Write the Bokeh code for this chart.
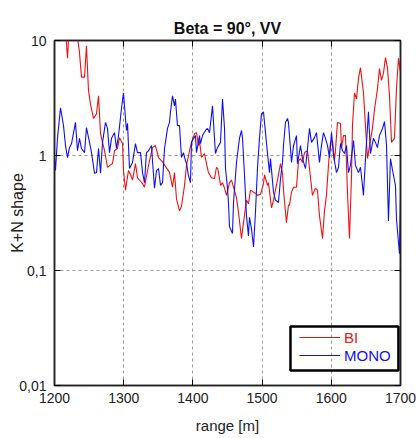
from bokeh.plotting import figure
from bokeh.models import (Range1d, FixedTicker, LinearAxis, LogAxis, Legend,
                          LegendItem, BoxAnnotation)
from bokeh.embed import file_html
from bokeh.resources import INLINE

# K+N shape factor versus range, bistatic (BI) and monostatic (MONO)
range_bi = [1200, 1206, 1212, 1216.5, 1218.8, 1221, 1226, 1231, 1236, 1239,
            1243.4, 1246.2, 1249.1, 1252, 1256.4, 1260.7, 1263.6, 1266.5, 1269.4, 1272.3,
            1276.6, 1280, 1283.8, 1286.7, 1291, 1293.9, 1298.3, 1299.7, 1302.6, 1306.9,
            1310, 1312.7, 1317, 1320, 1324, 1327.2, 1330, 1334.4, 1337.3, 1341.6,
            1345.9, 1350.3, 1356.1, 1360.4, 1366, 1370.5, 1373.4, 1376.3, 1380.6, 1383.5,
            1387.9, 1390.8, 1395.1, 1398, 1402.3, 1405.2, 1408.1, 1409.5, 1412.4, 1416.8,
            1419.6, 1422.5, 1426.9, 1431.2, 1434.1, 1436, 1440, 1442.8, 1445.7, 1448.6,
            1452.9, 1455.8, 1458.7, 1463, 1465.9, 1470.2, 1473.1, 1477.4, 1480.3, 1483.2,
            1487.6, 1490.4, 1493.3, 1497.7, 1502, 1503.5, 1507.8, 1509.2, 1513.6, 1516.5,
            1519.3, 1522.2, 1526.6, 1529.5, 1530.9, 1535.2, 1538.1, 1539.6, 1542.5, 1545.4,
            1549.7, 1552.6, 1555.5, 1558.4, 1561.3, 1565.6, 1568.5, 1572.8, 1577.1, 1580,
            1582.9, 1587.3, 1590.2, 1593, 1595.9, 1598.8, 1601.7, 1604.6, 1606, 1608.9,
            1613.3, 1614.7, 1617.6, 1620.5, 1623.4, 1626.3, 1629.2, 1630.6, 1633.5, 1636.4,
            1639.3, 1642.2, 1646.5, 1649.4, 1652.3, 1655.2, 1659.5, 1662.4, 1666.7, 1669.6,
            1672.5, 1675.4, 1678.3, 1681.2, 1684.1, 1687, 1691.3, 1694.2, 1697.1, 1700]
shape_bi = [14, 18, 12, 11, 7.0, 12, 16, 13, 8, 4.8,
            4.8, 9.0, 3.7, 2.8, 2.1, 2.3, 3.3, 1.55, 1.3, 1.10,
            0.79, 0.82, 0.85, 1.10, 1.15, 1.43, 1.27, 0.74, 0.50, 0.74,
            0.68, 0.61, 0.85, 0.64, 0.60, 0.57, 0.53, 0.74, 0.90, 1.17,
            1.22, 0.96, 0.88, 0.80, 0.72, 0.53, 0.71, 0.42, 0.33, 0.36,
            0.55, 0.82, 1.10, 1.30, 1.55, 1.58, 1.22, 1.35, 0.96, 1.04,
            0.85, 0.71, 0.64, 0.63, 0.79, 0.77, 0.55, 0.58, 0.52, 0.45,
            0.58, 0.61, 0.53, 0.43, 0.32, 0.19, 0.26, 0.41, 0.38, 0.50,
            0.48, 0.47, 0.45, 0.46, 0.57, 0.68, 0.55, 0.58, 0.35, 0.41,
            0.50, 0.61, 0.85, 0.70, 0.50, 0.26, 0.37, 0.37, 0.48, 0.53,
            0.53, 0.90, 0.94, 0.87, 1.06, 1.10, 0.77, 0.45, 0.52, 0.50,
            0.30, 0.19, 0.33, 0.45, 0.82, 1.30, 1.35, 0.90, 1.10, 1.94,
            1.90, 1.15, 1.49, 1.49, 0.47, 0.19, 0.67, 1.82, 3.5, 3.1,
            4.7, 5.8, 3.5, 1.82, 0.94, 1.22, 1.72, 2.5, 3.8, 5.7,
            4.5, 5.2, 7.1, 5.8, 3.3, 1.30, 1.41, 3.8, 7.0, 5.3]

range_mono = [1200, 1201.4, 1204.3, 1208.7, 1213, 1215.9, 1218.8, 1221.7, 1224.6, 1230.3,
              1233.2, 1236.1, 1239, 1243.4, 1246.2, 1250.6, 1253.5, 1257.8, 1260.7, 1263.6,
              1266.5, 1269.4, 1273.7, 1276.6, 1279.5, 1282.4, 1286.7, 1289.6, 1292.5, 1296.8,
              1299.7, 1304, 1305.5, 1308.4, 1312.7, 1317, 1319.9, 1324.3, 1327.2, 1330,
              1332.9, 1335.8, 1340.2, 1341.6, 1344.5, 1347.4, 1350.3, 1353.2, 1356.1, 1359,
              1363.3, 1366.2, 1367.6, 1370.5, 1373.4, 1374.8, 1377.7, 1380.6, 1383.5, 1386.4,
              1389.3, 1390.8, 1393.6, 1396.5, 1398, 1400.9, 1403.7, 1405.2, 1409.5, 1410.9,
              1413.9, 1418.2, 1421.1, 1424, 1428.3, 1432.6, 1435.5, 1439.9, 1442.8, 1445.7,
              1447.1, 1450, 1451.4, 1452.9, 1457.2, 1458.7, 1463, 1467.3, 1470.2, 1471.7,
              1474.6, 1477.4, 1480.3, 1481.8, 1484.7, 1487.6, 1490.4, 1493.3, 1496.2, 1499.1,
              1502, 1504.9, 1507.8, 1510.7, 1512.1, 1516.5, 1519.3, 1523.7, 1526.6, 1529.5,
              1530.9, 1533.8, 1536.7, 1538.1, 1542.5, 1545.4, 1549.7, 1551.1, 1555.5, 1558.4,
              1562.7, 1565.6, 1568.5, 1571.4, 1575.7, 1578.6, 1582.9, 1585.8, 1588.7, 1591.6,
              1594.5, 1597.4, 1600.3, 1603.2, 1607.5, 1610.4, 1613.3, 1616.2, 1619.1, 1622,
              1624.8, 1627.7, 1632.1, 1634.9, 1639.3, 1642.2, 1646.5, 1649.4, 1653.7, 1656.6,
              1660.9, 1663.8, 1666.7, 1669.6, 1674, 1676.9, 1679.8, 1682.6, 1685.5, 1689.9,
              1692.7, 1694.2, 1698.5, 1700]
shape_mono = [0.94, 0.74, 1.41, 2.6, 1.82, 1.22, 0.96, 1.17, 1.27, 1.94,
              1.10, 1.41, 1.15, 1.06, 1.75, 1.30, 1.06, 0.70, 0.71, 1.15,
              0.70, 1.30, 1.94, 1.72, 1.06, 1.41, 1.58, 1.15, 1.49, 2.56,
              3.5, 1.65, 1.90, 0.77, 0.87, 1.27, 1.06, 1.06, 0.71, 0.58,
              1.06, 1.10, 1.22, 0.90, 0.52, 0.74, 0.77, 0.55, 0.58, 1.15,
              1.72, 1.94, 2.4, 3.3, 2.7, 3.1, 1.82, 1.82, 0.96, 1.06,
              0.90, 0.85, 0.67, 0.58, 1.30, 1.41, 1.49, 1.06, 1.49, 1.27,
              1.49, 1.65, 1.72, 1.58, 2.7, 1.04, 1.17, 1.30, 3.1, 1.72,
              0.77, 0.52, 0.39, 0.24, 0.21, 0.39, 0.87, 1.41, 1.65, 1.41,
              0.67, 0.30, 0.20, 0.29, 0.23, 0.16, 0.32, 0.77, 1.41, 2.3,
              2.4, 1.58, 1.04, 0.71, 0.94, 0.48, 0.41, 0.39, 0.63, 0.87,
              1.22, 1.94, 2.1, 1.94, 0.87, 1.22, 1.49, 0.85, 1.22, 0.94,
              0.77, 1.15, 1.72, 1.30, 1.43, 1.58, 0.87, 1.22, 1.58, 1.41,
              1.22, 0.96, 1.58, 1.0, 0.71, 0.79, 1.27, 1.10, 1.04, 1.22,
              0.71, 0.82, 1.35, 0.82, 0.71, 0.79, 0.45, 0.94, 2.4, 1.04,
              1.41, 1.30, 1.17, 1.49, 1.72, 1.97, 1.22, 0.27, 0.94, 0.67,
              0.55, 0.28, 0.14, 0.42]

x_ticks = [1200, 1300, 1400, 1500, 1600, 1700]
y_ticks = [0.01, 0.1, 1, 10]
y_tick_labels = ["0,01", "0,1", "1", "10"]
series_names = ["BI", "MONO"]
series_colors = ["#ee1111", "#1111ee"]

FONT = "Liberation Sans"
LEGEND_BOX = dict(left=1541, right=1697, bottom=0.0135, top=0.0326)

p = figure(width=419, height=438, output_backend="svg", toolbar_location=None,
           y_axis_type="log", x_range=Range1d(1200, 1700), y_range=Range1d(0.01, 10),
           title="Beta = 90°, VV", min_border_left=54, min_border_right=19,
           min_border_top=40, min_border_bottom=53)

p.title.align = "center"
p.title.text_font = FONT
p.title.text_font_size = "16px"
p.title.text_font_style = "bold"
p.title.text_color = "#111111"
p.title.standoff = 8

p.outline_line_color = "#222222"
p.outline_line_width = 1.5
p.background_fill_color = "white"
p.border_fill_color = "white"

# grid
p.xgrid.ticker = FixedTicker(ticks=x_ticks)
p.ygrid.ticker = FixedTicker(ticks=y_ticks)
for g in (p.xgrid, p.ygrid):
    g.grid_line_color = "#999999"
    g.grid_line_dash = "3 3"
    g.grid_line_width = 1


def style_axis(ax):
    ax.axis_line_color = "#222222"
    ax.axis_line_width = 1.5
    ax.major_tick_in = 6
    ax.major_tick_out = 0
    ax.minor_tick_in = 0
    ax.minor_tick_out = 0
    ax.major_tick_line_color = "black"
    ax.major_label_text_font = FONT
    ax.major_label_text_font_size = "14px"
    ax.major_label_text_color = "#222222"
    ax.axis_label_text_font = FONT
    ax.axis_label_text_font_size = "15px"
    ax.axis_label_text_font_style = "normal"
    ax.axis_label_text_color = "#222222"


xa = p.xaxis[0]
xa.ticker = FixedTicker(ticks=x_ticks)
xa.axis_label = "range [m]"
xa.major_label_standoff = 7
xa.axis_label_standoff = 11
style_axis(xa)

ya = p.yaxis[0]
ya.ticker = FixedTicker(ticks=y_ticks, minor_ticks=[])
ya.major_label_overrides = {t: lab for t, lab in zip(y_ticks, y_tick_labels)}
ya.axis_label = "K+N shape"
ya.major_label_standoff = 8
ya.axis_label_standoff = -10
style_axis(ya)
ya.axis_label_text_font_size = "16px"

# tick-only axes closing the frame on top and right
top = LinearAxis(ticker=FixedTicker(ticks=x_ticks),
                 major_label_overrides={t: "" for t in x_ticks})
style_axis(top)
top.major_label_standoff = 0
p.add_layout(top, "above")

right = LogAxis(ticker=FixedTicker(ticks=y_ticks, minor_ticks=[]),
                major_label_overrides={t: "" for t in y_ticks})
style_axis(right)
right.major_label_standoff = 0
p.add_layout(right, "right")

renderers = []
for xs, ys, color in ((range_bi, shape_bi, series_colors[0]),
                      (range_mono, shape_mono, series_colors[1])):
    r = p.line(xs, ys, line_color=color, line_width=1.1)
    renderers.append(r)

# legend frame
p.add_layout(BoxAnnotation(fill_alpha=0, line_color="black", line_alpha=1,
                           line_width=2.5, **LEGEND_BOX))

# one legend per series so each label carries its line colour
for name, color, r, ypos in zip(series_names, series_colors, renderers, (39, 21)):
    lg = Legend(items=[LegendItem(label=name, renderers=[r])],
                location=(245, ypos), padding=0, margin=0, spacing=0,
                glyph_width=41, glyph_height=18, label_height=18,
                label_standoff=4, label_text_font=FONT,
                label_text_font_size="15px", label_text_color=color,
                border_line_alpha=0, background_fill_alpha=0)
    p.add_layout(lg)

open("out.html", "w").write(file_html(p, INLINE))
